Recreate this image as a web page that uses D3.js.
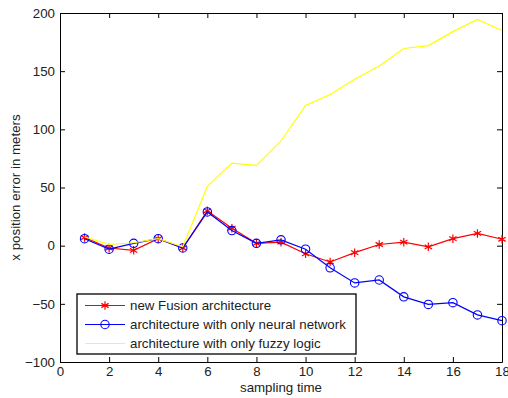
<!DOCTYPE html>
<html><head><meta charset="utf-8">
<script src="https://cdn.jsdelivr.net/npm/d3@7"></script>
<style>
html,body{margin:0;padding:0;background:#fff;}
text{font-family:"Liberation Sans",Arial,sans-serif;}
</style></head>
<body>
<svg id="chart" width="508" height="398"></svg>
<script>
const samples = [1,2,3,4,5,6,7,8,9,10,11,12,13,14,15,16,17,18];
const fusion = [7,-2,-4,6,-2,30,15,2,3,-7,-14,-6,1,3,-1,6,10.5,5.5];
const neural = [6,-3,2,6,-2,29,13,2,5,-3,-19,-32,-29.5,-44,-50.5,-49,-59.5,-64.5];
const fuzzy = [7.5,1,2.5,6,-1,51,71,69,90,120.5,130,143,154.5,169.5,172,184,194.5,185];
const seriesNames = ["new Fusion architecture","architecture with only neural network","architecture with only fuzzy logic"];
const xTicks = [0,2,4,6,8,10,12,14,16,18];
const yTicks = [-100,-50,0,50,100,150,200];

const svg = d3.select("#chart");
const L = 60, R = 502, T = 13, B = 362;
const x = d3.scaleLinear().domain([0,18]).range([L,R]);
const y = d3.scaleLinear().domain([-100,200]).range([B,T]);

const fs = "13.3px";
const gB = svg.append("g").attr("transform",`translate(0,${B})`)
  .call(d3.axisBottom(x).tickValues(xTicks).tickSize(-5).tickPadding(5).tickSizeOuter(0));
const gT = svg.append("g").attr("transform",`translate(0,${T})`)
  .call(d3.axisTop(x).tickValues(xTicks).tickSize(-5).tickFormat("").tickSizeOuter(0));
const gL = svg.append("g").attr("transform",`translate(${L},0)`)
  .call(d3.axisLeft(y).tickValues(yTicks).tickSize(-5).tickPadding(5).tickSizeOuter(0));
const gR = svg.append("g").attr("transform",`translate(${R},0)`)
  .call(d3.axisRight(y).tickValues(yTicks).tickSize(-5).tickFormat("").tickSizeOuter(0));
[gB,gT,gL,gR].forEach(g=>{
  g.selectAll("path.domain").attr("stroke","#000").attr("stroke-width",1);
  g.selectAll("line").attr("stroke","#000");
  g.selectAll("text").attr("fill","#222").style("font-size",fs).style("font-family","'Liberation Sans',Arial,sans-serif");
});

const line = d3.line().x((d,i)=>x(samples[i])).y(d=>y(d));
const plot = svg.append("g");

function drawSeries(vals,color,marker){
  plot.append("path").datum(vals).attr("d",line).attr("fill","none")
    .attr("stroke",color).attr("stroke-width",1.2);
  if(marker==="circle"){
    plot.selectAll(null).data(vals).enter().append("circle")
      .attr("cx",(d,i)=>x(samples[i])).attr("cy",d=>y(d)).attr("r",4.2)
      .attr("fill","none").attr("stroke",color).attr("stroke-width",1.1);
  } else if(marker==="star"){
    const star = d3.symbol().type(d3.symbolAsterisk).size(50);
    plot.selectAll(null).data(vals).enter().append("path")
      .attr("d",star).attr("transform",(d,i)=>`translate(${x(samples[i])},${y(d)})`)
      .attr("fill","none").attr("stroke",color).attr("stroke-width",1.2);
  }
}
drawSeries(fusion,"#ff0000","star");
drawSeries(neural,"#0000ff","circle");
drawSeries(fuzzy,"#ffff00",null);

// legend
const lg = svg.append("g");
lg.append("rect").attr("x",77).attr("y",294).attr("width",279).attr("height",60)
  .attr("fill","#fff").attr("stroke","#000").attr("stroke-width",1.3);
const rows = [305.5,324.5,343.5];
const colors = ["#ff0000","#0000ff","#ffff00"];
rows.forEach((ry,i)=>{
  lg.append("line").attr("x1",85).attr("x2",125).attr("y1",ry).attr("y2",ry)
    .attr("stroke",colors[i]).attr("stroke-width",1.2);
  if(i===0){
    lg.append("path").attr("d",d3.symbol().type(d3.symbolAsterisk).size(50))
      .attr("transform",`translate(105,${ry})`).attr("fill","none").attr("stroke",colors[i]).attr("stroke-width",1.2);
  } else if(i===1){
    lg.append("circle").attr("cx",105).attr("cy",ry).attr("r",4.2).attr("fill","none").attr("stroke",colors[i]).attr("stroke-width",1.1);
  }
  lg.append("text").attr("x",130).attr("y",ry).attr("dy","0.35em")
    .style("font-size",fs).attr("fill","#222").text(seriesNames[i]);
});

// axis labels
svg.append("text").attr("x",(L+R)/2).attr("y",392).attr("text-anchor","middle")
  .style("font-size",fs).attr("fill","#222").text("sampling time");
svg.append("text").attr("transform",`translate(20,${(T+B)/2}) rotate(-90)`)
  .attr("text-anchor","middle").style("font-size",fs).attr("fill","#222")
  .text("x position error in meters");
</script>
</body></html>
